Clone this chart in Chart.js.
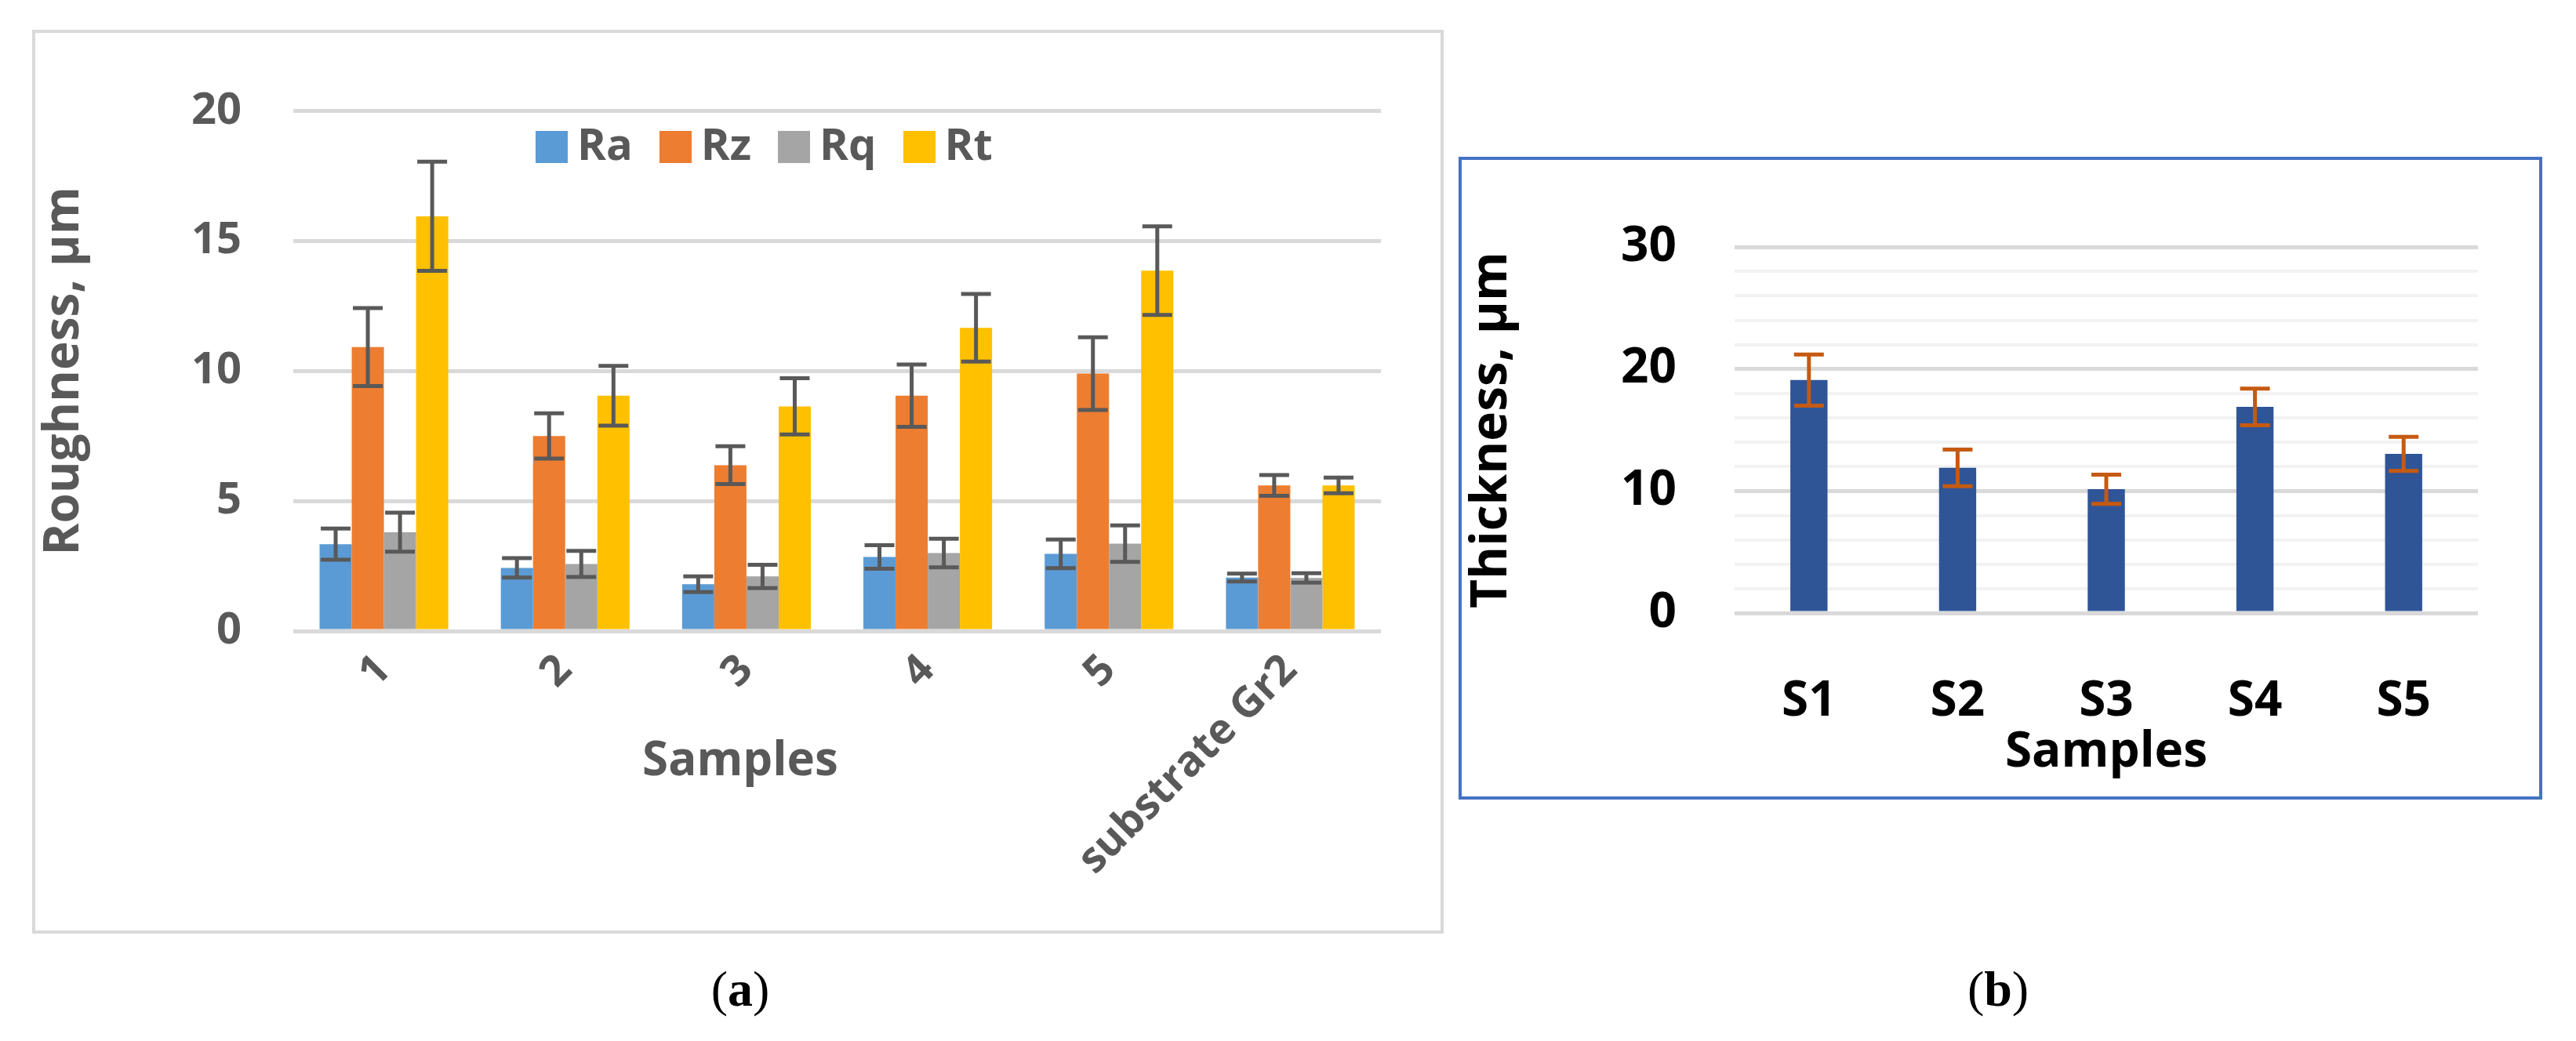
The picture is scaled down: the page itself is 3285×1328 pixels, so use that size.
<!DOCTYPE html>
<html>
<head>
<meta charset="utf-8">
<script src="https://cdn.jsdelivr.net/npm/chart.js@4.4.0/dist/chart.umd.min.js"></script>
<style>
  body { margin: 0; width: 3285px; height: 1328px; background: #fff; position: relative; overflow: hidden; }
  .box { position: absolute; box-sizing: border-box; }
  #boxA { left: 41px; top: 38px; width: 1800px; height: 1153px; border: 4px solid #d9d9d9; }
  #boxB { left: 1860px; top: 200px; width: 1382px; height: 820px; border: 4px solid #4472c4; }
  canvas { display: block; }
  .lbl { position: absolute; font-family: "Open Sans", sans-serif; font-weight: 700; }
  .cap { position: absolute; font-family: "Liberation Serif", serif; font-size: 64px; transform: translate(-50%, -50%); }
  #legend { position: absolute; left: 683px; top: 144px; display: flex; gap: 34px; font-size: 56px; color: #595959; }
  #legend span.sw { display: inline-block; width: 41px; height: 41px; margin-right: 12px; vertical-align: -4px; }
</style>
</head>
<body>
<div class="box" id="boxA"><canvas id="chartA" width="1792" height="1145"></canvas></div>
<div class="box" id="boxB"><canvas id="chartB" width="1374" height="812"></canvas></div>
<div class="lbl" id="legend"></div>
<div class="lbl" style="left:944px; top:966px; transform:translate(-50%,-50%); font-size:60px; color:#595959;">Samples</div>
<div class="cap" style="left:944px; top:1262px;">(<b>a</b>)</div>
<div class="cap" style="left:2548px; top:1262px;">(<b>b</b>)</div>
<script>
// --- (a) roughness ---
const samplesA = ['1', '2', '3', '4', '5', 'substrate Gr2'];
const seriesNames = ['Ra', 'Rz', 'Rq', 'Rt'];
const seriesColors = ['#5b9bd5', '#ed7d31', '#a5a5a5', '#ffc000'];
const ra = [3.34, 2.43, 1.8, 2.85, 2.97, 2.06];
const rz = [10.92, 7.5, 6.38, 9.05, 9.9, 5.6];
const rq = [3.8, 2.58, 2.1, 3.0, 3.36, 2.04];
const rt = [15.95, 9.05, 8.64, 11.66, 13.86, 5.6];
const raErr = [0.6, 0.37, 0.3, 0.45, 0.55, 0.15];
const rzErr = [1.5, 0.87, 0.73, 1.2, 1.4, 0.4];
const rqErr = [0.75, 0.5, 0.45, 0.55, 0.7, 0.18];
const rtErr = [2.1, 1.15, 1.08, 1.3, 1.7, 0.3];
const ticksA = [0, 5, 10, 15, 20];

// --- (b) thickness ---
const samplesB = ['S1', 'S2', 'S3', 'S4', 'S5'];
const thickness = [19.1, 11.9, 10.15, 16.9, 13.05];
const thicknessErr = [2.1, 1.5, 1.2, 1.5, 1.4];

const FONT = '"Open Sans", sans-serif';

// error bars drawn through the scales
const errorBars = {
  id: 'errorBars',
  afterDatasetsDraw(chart, args, opts) {
    const ctx = chart.ctx;
    const y = chart.scales.y;
    chart.data.datasets.forEach((ds, i) => {
      const meta = chart.getDatasetMeta(i);
      meta.data.forEach((bar, j) => {
        const v = ds.data[j], e = ds.err[j];
        const yTop = y.getPixelForValue(v + e), yBot = y.getPixelForValue(v - e);
        ctx.save();
        ctx.strokeStyle = opts.color;
        ctx.lineWidth = 5;
        ctx.beginPath();
        ctx.moveTo(bar.x, yTop); ctx.lineTo(bar.x, yBot);
        ctx.moveTo(bar.x - 19, yTop); ctx.lineTo(bar.x + 19, yTop);
        ctx.moveTo(bar.x - 19, yBot); ctx.lineTo(bar.x + 19, yBot);
        ctx.stroke();
        ctx.restore();
      });
    });
  }
};

const errsA = [raErr, rzErr, rqErr, rtErr];
const dataA = [ra, rz, rq, rt];

new Chart(document.getElementById('chartA'), {
  type: 'bar',
  data: {
    labels: samplesA,
    datasets: seriesNames.map((n, i) => ({
      label: n, data: dataA[i], err: errsA[i], backgroundColor: seriesColors[i],
      barPercentage: 1, categoryPercentage: 0.71
    }))
  },
  plugins: [errorBars],
  options: {
    responsive: false, animation: false,
    layout: { padding: { top: 69, right: 76, left: 0, bottom: 0 } },
    plugins: { legend: { display: false }, tooltip: { enabled: false }, errorBars: { color: '#595959' } },
    scales: {
      x: {
        grid: { display: false }, border: { display: false },
        ticks: { color: '#595959', font: { family: FONT, size: 54, weight: 'bold' }, minRotation: 45, maxRotation: 45, padding: 10 },
        afterFit(s) { s.height = 382; }
      },
      y: {
        min: 0, max: 20,
        afterBuildTicks(s) { s.ticks = ticksA.map(v => ({ value: v })); },
        grid: { color: '#d9d9d9', lineWidth: 5, drawTicks: false },
        border: { display: false },
        ticks: { color: '#595959', font: { family: FONT, size: 56, weight: 'bold' }, padding: 66 },
        title: { display: true, text: 'Roughness, µm', color: '#595959', font: { family: FONT, size: 62, weight: 'bold' }, padding: { top: 0, bottom: 0 } },
        afterFit(s) { s.width = 329; }
      }
    }
  }
});

// HTML legend built from the series arrays
document.getElementById('legend').innerHTML = seriesNames.map((n, i) =>
  `<div><span class="sw" style="background:${seriesColors[i]}"></span>${n}</div>`).join('');

new Chart(document.getElementById('chartB'), {
  type: 'bar',
  data: {
    labels: samplesB,
    datasets: [{ label: 'Thickness', data: thickness, err: thicknessErr, backgroundColor: '#2f5597',
      barPercentage: 1, categoryPercentage: 0.25 }]
  },
  plugins: [errorBars],
  options: {
    responsive: false, animation: false,
    layout: { padding: { top: 75, right: 78, left: 0, bottom: 0 } },
    plugins: { legend: { display: false }, tooltip: { enabled: false }, errorBars: { color: '#c55a11' } },
    scales: {
      x: {
        grid: { display: false }, border: { display: false },
        ticks: { color: '#000', font: { family: FONT, size: 62, weight: 'bold' }, padding: 68 },
        title: { display: true, text: 'Samples', color: '#000', font: { family: FONT, size: 62, weight: 'bold' }, padding: { top: 0, bottom: 18 } },
        afterFit(s) { s.height = 234; }
      },
      y: {
        min: 0, max: 30,
        ticks: {
          stepSize: 2, autoSkip: false, color: '#000', font: { family: FONT, size: 62, weight: 'bold' }, padding: 74,
          callback: v => (v % 10 === 0 ? v : '')
        },
        grid: {
          drawTicks: false,
          color: c => (c.tick.value % 10 === 0 ? '#d9d9d9' : '#f2f2f2'),
          lineWidth: c => (c.tick.value % 10 === 0 ? 5 : 4)
        },
        border: { display: false },
        title: { display: true, text: 'Thickness, µm', color: '#000', font: { family: FONT, size: 64, weight: 'bold' }, padding: { top: 0, bottom: 0 } },
        afterFit(s) { s.width = 348; }
      }
    }
  }
});
</script>
</body>
</html>
